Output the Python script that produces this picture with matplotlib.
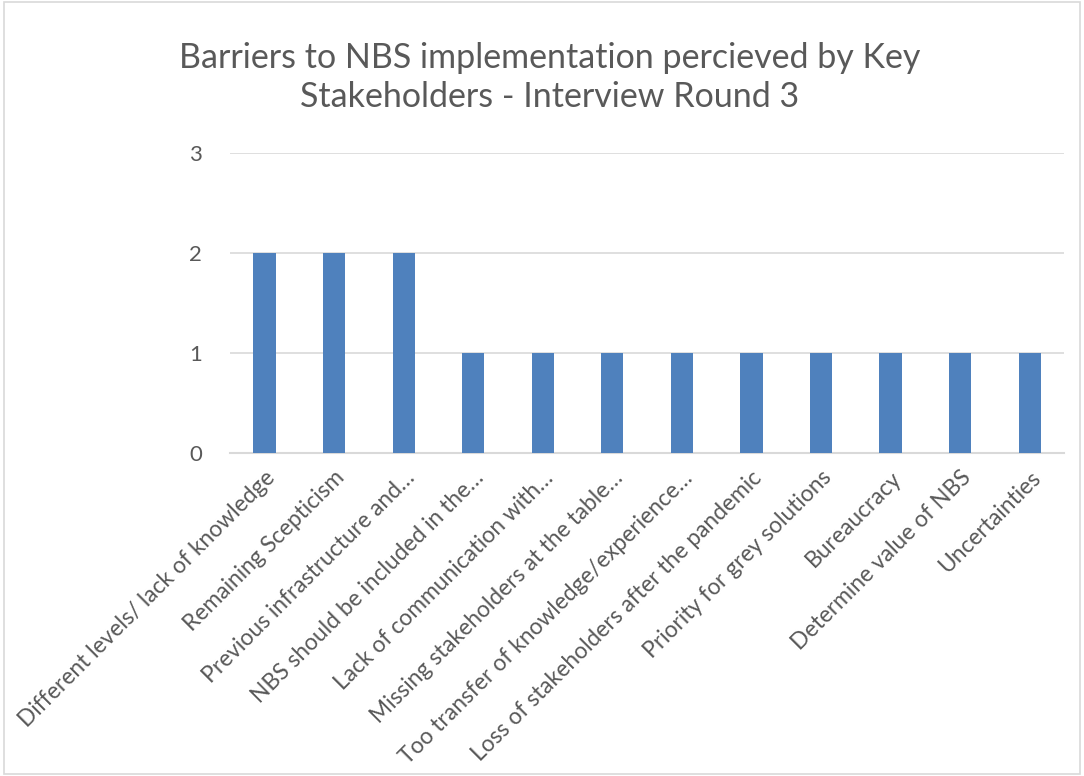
import matplotlib
matplotlib.use("Agg")
import matplotlib.pyplot as plt
from matplotlib.patches import Rectangle

categories = [
    "Different levels/ lack of knowledge",
    "Remaining Scepticism",
    "Previous infrastructure and…",
    "NBS should be included in the…",
    "Lack of communication with…",
    "Missing stakeholders at the table…",
    "Too transfer of knowledge/experience…",
    "Loss of stakeholders after the pandemic",
    "Priority for grey solutions",
    "Bureaucracy",
    "Determine value of NBS",
    "Uncertainties",
]
counts = [2, 2, 2, 1, 1, 1, 1, 1, 1, 1, 1, 1]
yticks = [0, 1, 2, 3]

title = "Barriers to NBS implementation percieved by Key\nStakeholders - Interview Round 3"

plt.rcParams["font.family"] = ["Lato", "DejaVu Sans"]
text_color = "#595959"
grid_color = "#D9D9D9"
bar_color = "#4F81BD"

fig = plt.figure(figsize=(10.84, 7.76), dpi=100)
ax = fig.add_axes([0.212, 0.416, 0.770, 0.387])

x = list(range(len(categories)))
ax.bar(x, counts, width=0.32, color=bar_color, zorder=3)

ax.set_xlim(-0.5, len(categories) - 0.5)
ax.set_ylim(0, 3)
ax.set_yticks(yticks)
ax.set_yticklabels([str(v) for v in yticks], fontsize=16, color=text_color)
ax.set_xticks(x)
ax.set_xticklabels(categories, rotation=45, ha="right", rotation_mode="anchor",
                   fontsize=16.4, color=text_color)
ax.tick_params(axis="both", length=0)
ax.tick_params(axis="y", pad=20)
ax.tick_params(axis="x", pad=10)

ax.grid(axis="y", color=grid_color, linewidth=1.2, zorder=0)
for side in ["top", "right", "left"]:
    ax.spines[side].set_visible(False)
ax.spines["bottom"].set_color(grid_color)
ax.spines["bottom"].set_linewidth(1.5)

fig.text(0.507, 0.900, title, ha="center", va="center", fontsize=24.5,
         color=text_color, linespacing=1.25)

# light frame around the chart area
fig.patches.append(Rectangle((0.004, 0.002), 0.992, 0.996, transform=fig.transFigure,
                             fill=False, edgecolor=grid_color, linewidth=1.2))

fig.savefig("out.png", dpi=100)
